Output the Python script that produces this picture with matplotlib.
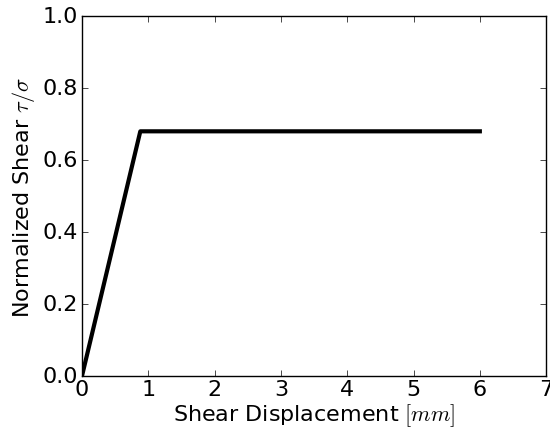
import numpy as np
import matplotlib
matplotlib.use('Agg')
import matplotlib.pyplot as plt

# bilinear shear law: elastic ramp then constant residual
disp = [0.0, 0.88, 6.0]
shear = [0.0, 0.68, 0.68]

plt.style.use('classic')
plt.rcParams['mathtext.fontset'] = 'cm'
plt.rcParams['font.size'] = 16
plt.rcParams['xtick.major.pad'] = 2
plt.rcParams['ytick.major.pad'] = 3

fig = plt.figure(figsize=(5.5, 4.39), dpi=100, facecolor='white')
ax = fig.add_axes([0.149, 0.141, 0.844, 0.820])
ax.plot(disp, shear, color='k', linewidth=3)

ax.set_xlim(0, 7)
ax.set_ylim(0, 1.0)
ax.set_xticks(np.arange(0, 8, 1))
ax.set_yticks(np.arange(0, 1.01, 0.2))
ax.set_xlabel('Shear Displacement $[mm]$', labelpad=2)
ax.set_ylabel(r'Normalized Shear $\tau/\sigma$', labelpad=4)

fig.savefig('out.png', dpi=100, facecolor='white')
